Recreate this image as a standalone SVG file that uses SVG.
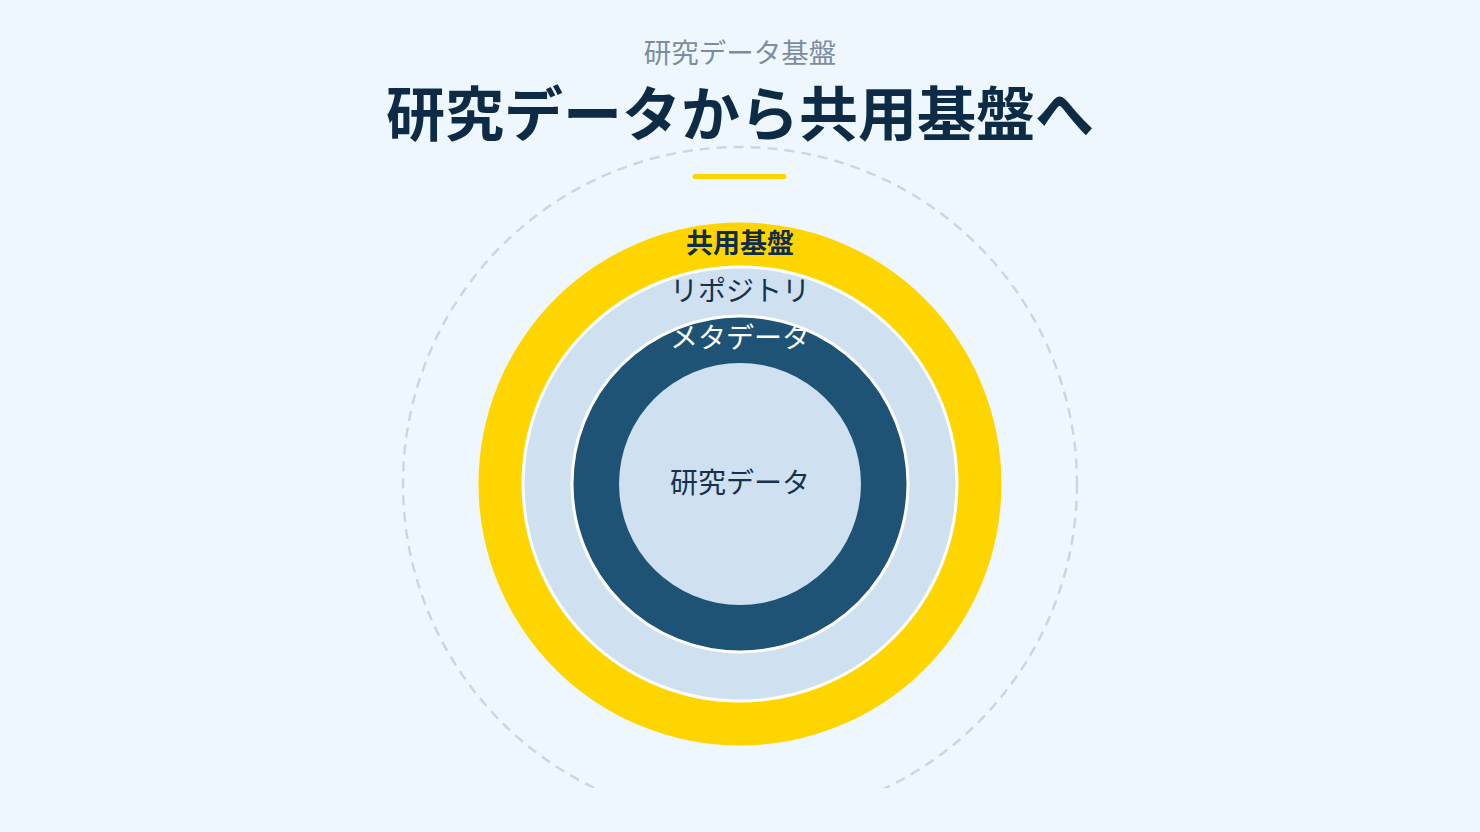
<svg xmlns="http://www.w3.org/2000/svg" width="1480" height="832" viewBox="0 0 1480 832">
<defs>
<style>
text{font-family:"Noto Sans CJK JP","Noto Sans",sans-serif;text-anchor:middle}
.sub{font-size:27.5px;fill:#7b8ea0}
.title{font-size:59px;font-weight:700;fill:#0d2b45}
.lbl{font-size:28px}
</style>
<clipPath id="clip"><rect x="0" y="0" width="1480" height="788"/></clipPath>
</defs>
<rect width="1480" height="832" fill="#eff7fe"/>
<g id="header">
<text class="sub" x="740" y="63">研究データ基盤</text>
<text class="title" x="740" y="136">研究データから共用基盤へ</text>
</g>
<g id="guide">
<circle cx="740" cy="484" r="337" fill="none" stroke="#c9d7e4" stroke-width="2.5" stroke-dasharray="10 7" clip-path="url(#clip)"/>
</g>
<g id="accent">
<line x1="695" y1="176.5" x2="784" y2="176.5" stroke="#ffd500" stroke-width="5" stroke-linecap="round"/>
</g>
<g id="ring-platform">
<circle cx="740" cy="484" r="261.5" fill="#ffd500"/>
<text x="740" y="253" style="font-size:27px;font-weight:700;fill:#0f2d46">共用基盤</text>
</g>
<g id="ring-repository">
<circle cx="740" cy="484" r="217" fill="#cfe0f0" stroke="#ffffff" stroke-width="3"/>
<text class="lbl" x="740" y="301" fill="#15324d">リポジトリ</text>
</g>
<g id="ring-metadata">
<circle cx="740" cy="484" r="168" fill="#1e5375" stroke="#ffffff" stroke-width="3"/>
<text class="lbl" x="740" y="348" fill="#ffffff">メタデータ</text>
</g>
<g id="core-data">
<circle cx="740" cy="484" r="121" fill="#cfe0f0"/>
<text class="lbl" x="740" y="493" fill="#15324d">研究データ</text>
</g>
</svg>
